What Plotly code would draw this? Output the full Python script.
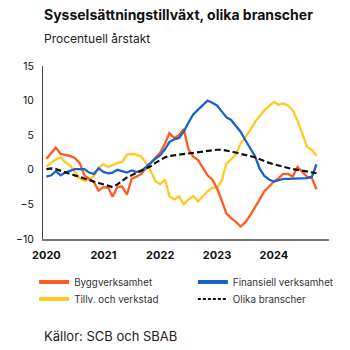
import pandas as pd
import plotly.graph_objects as go

months = pd.date_range("2020-01-01", periods=58, freq="MS")

bygg = [1.6, 2.5, 3.2, 2.3, 2.2, 2.0, 1.7, 1.0, -0.8, -1.3,
        -1.8, -3.0, -2.5, -2.6, -3.9, -2.5, -2.4, -3.6, -1.3, -1.0,
        -0.6, 0.2, 1.0, 1.7, 2.5, 3.8, 5.3, 4.6, 5.0, 5.9,
        3.0, 1.9, 1.4, 0.3, -0.8, -1.4, -2.7, -4.5, -6.3, -7.0,
        -7.5, -8.2, -7.6, -6.6, -5.5, -4.3, -3.1, -2.4, -1.7, -1.2,
        -0.6, -0.6, -1.0, 0.4, -0.3, -1.0, -1.2, -2.8]

finans = [-1.0, -0.8, -0.2, -0.8, -0.4, -0.2, 0.1, 0.1, 0.1, -0.4,
          -0.6, 0.2, -0.3, -0.5, -0.4, 0.0, -0.2, -0.4, -0.1, -0.3,
          -0.2, 0.4, 1.1, 1.6, 2.1, 3.0, 4.0, 4.4, 4.6, 5.5,
          6.8, 8.0, 8.7, 9.4, 10.0, 9.7, 9.3, 8.4, 7.6, 7.2,
          6.3, 5.5, 4.3, 3.2, 2.0, 0.2, -0.9, -1.4, -1.7, -1.5,
          -1.3, -1.3, -1.3, -1.3, -1.3, -1.2, -1.0, 0.8]

tillv = [0.5, 1.0, 1.5, 1.8, 1.1, 0.6, -0.3, -1.2, -1.6, -1.4,
         -0.9, 0.3, 0.8, 0.4, 0.7, 1.0, 1.1, 2.2, 2.3, 2.2,
         1.9, 1.0, -0.2, -1.6, -2.1, -1.4, -3.8, -4.3, -3.8, -5.0,
         -4.3, -3.8, -4.6, -3.9, -3.1, -2.6, -2.6, -1.5, 0.9, 1.5,
         2.2, 3.8, 4.7, 5.7, 6.9, 7.8, 8.6, 9.2, 9.8, 9.4,
         9.6, 9.3, 8.6, 7.1, 5.2, 3.3, 2.9, 2.0]

olika = [0.1, 0.2, 0.1, -0.1, -0.3, -0.6, -0.8, -1.0, -1.2, -1.5,
         -1.7, -1.9, -2.1, -2.4, -2.5, -2.1, -1.6, -1.1, -0.8, -0.4,
         -0.1, 0.2, 0.5, 1.0, 1.4, 1.8, 2.0, 2.1, 2.2, 2.3,
         2.4, 2.5, 2.6, 2.7, 2.8, 2.9, 2.9, 2.9, 2.8, 2.7,
         2.5, 2.3, 2.1, 2.0, 1.8, 1.5, 1.2, 1.0, 0.8, 0.6,
         0.5, 0.3, 0.1, 0.0, -0.1, -0.2, -0.4, -0.5]

year_ticks = ["2020-01-01", "2021-01-01", "2022-01-01", "2023-01-01", "2024-01-01"]
year_labels = ["2020", "2021", "2022", "2023", "2024"]
y_ticks = [-10, -5, 0, 5, 10, 15]

series = [
    ("Byggverksamhet", bygg, "#FF5A1F", "solid"),
    ("Finansiell verksamhet", finans, "#1B63C4", "solid"),
    ("Tillv. och verkstad", tillv, "#FFC91F", "solid"),
    ("Olika branscher", olika, "#111111", "6px,3px"),
]
legend_slots = [("legend", -0.031, -0.165), ("legend2", 0.524, -0.165),
                ("legend3", -0.031, -0.263), ("legend4", 0.524, -0.263)]

FONT = "Inter"
fig = go.Figure()
draw_order = [2, 0, 1, 3]
for i in draw_order:
    name, vals, col, dash = series[i]
    fig.add_trace(go.Scatter(x=months, y=vals, mode="lines", name=name,
                             line=dict(color=col, width=2.3 if dash == "solid" else 2.2, dash=dash),
                             showlegend=False, hoverinfo="skip"))
for (name, vals, col, dash), (lg, lx, ly) in zip(series, legend_slots):
    fig.add_trace(go.Scatter(x=[None], y=[None], mode="lines", name=name, legend=lg,
                             line=dict(color=col, width=4 if dash == "solid" else 2,
                                       dash="solid" if dash == "solid" else "3px,2px"),
                             showlegend=True))

legend_common = dict(xanchor="left", yanchor="top", itemwidth=30,
                     font=dict(size=9.8, color="#333333", family=FONT),
                     bgcolor="rgba(0,0,0,0)")
layout_legends = {}
for lg, lx, ly in legend_slots:
    layout_legends[lg] = dict(x=lx, y=ly, **legend_common)

fig.update_layout(
    width=350, height=350,
    margin=dict(l=43, r=21, t=66, b=111, autoexpand=False),
    paper_bgcolor="white", plot_bgcolor="white",
    font=dict(family=FONT, color="#222222"),
    showlegend=True,
    annotations=[
        dict(text="<b>Sysselsättningstillväxt, olika branscher</b>", xref="paper", yref="paper",
             x=-0.005, y=1.0, xanchor="left", yanchor="bottom", yshift=41, showarrow=False,
             font=dict(size=14, color="#111111", family=FONT), align="left"),
        dict(text="Procentuell årstakt", xref="paper", yref="paper",
             x=-0.005, y=1.0, xanchor="left", yanchor="bottom", yshift=18, showarrow=False,
             font=dict(size=12, color="#222222", family=FONT), align="left"),
        dict(text="Källor: SCB och SBAB", xref="paper", yref="paper",
             x=-0.005, y=0.0, xanchor="left", yanchor="middle", yshift=-97, showarrow=False,
             font=dict(size=13, color="#222222", family=FONT), align="left"),
    ],
    **layout_legends,
)
fig.update_xaxes(range=["2019-12-10", "2024-12-20"], tickvals=year_ticks, ticktext=year_labels,
                 showgrid=False, zeroline=False, showline=True, linecolor="#777777", linewidth=1.5,
                 ticks="", ticklabelstandoff=5,
                 tickfont=dict(size=11, color="#111111", family=FONT, weight=700))
fig.update_yaxes(range=[-10, 15], tickvals=y_ticks, showgrid=False, zeroline=False,
                 showline=True, linecolor="#444444", linewidth=1, ticks="", ticklabelstandoff=6,
                 tickfont=dict(size=10.5, color="#111111", family=FONT))

fig.write_html("out.html")
